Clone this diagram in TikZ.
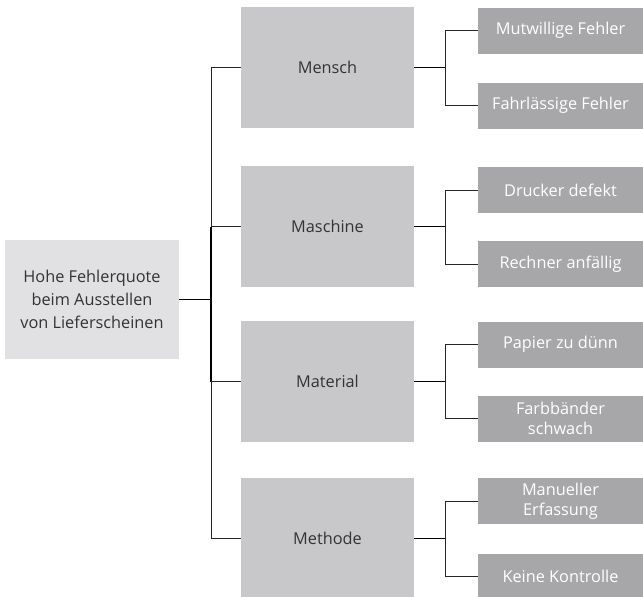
\documentclass[tikz,border=0pt]{standalone}
\usepackage{fontspec}
\setmainfont{Open Sans}
\begin{document}
\begin{tikzpicture}[x=1pt,y=-1pt,
  every node/.style={inner sep=0pt,outer sep=0pt,align=center,font=\fontsize{16.3}{23}\selectfont},
  rootbox/.style={fill=rootgray,text=txtdark,minimum width=174pt,minimum height=119pt},
  catbox/.style={fill=catgray,text=txtdark,minimum width=173pt,minimum height=121pt},
  leafbox/.style={fill=leafgray,text=white,minimum width=165pt,minimum height=46pt,font=\fontsize{16.3}{20}\selectfont},
  heavy/.style={draw=black,line width=1.7pt},
  light/.style={draw=black!85,line width=1pt}]
\definecolor{rootgray}{HTML}{E1E1E3}
\definecolor{catgray}{HTML}{C8C8CA}
\definecolor{leafgray}{HTML}{A7A7AA}
\definecolor{txtdark}{HTML}{333333}
\useasboundingbox (0,0) rectangle (643,597);
\begin{scope}
\clip (0,0) rectangle (643,597);
% root problem
\node[rootbox] (root) at (92,299.5) {Hohe Fehlerquote\\beim Ausstellen\\von Lieferscheinen};
% cause categories
\node[catbox] (mensch)   at (327.5,67.5)  {Mensch};
\node[catbox] (maschine) at (327.5,226.5) {Maschine};
\node[catbox] (material) at (327.5,381.5) {Material};
\node[catbox] (methode)  at (327.5,538.5) {Methode};
% detailed causes
\node[leafbox] (m1) at (560.5,30.5)  {Mutwillige Fehler};
\node[leafbox] (m2) at (560.5,105.5) {Fahrlässige Fehler};
\node[leafbox] (a1) at (560.5,190)   {Drucker defekt};
\node[leafbox] (a2) at (560.5,264)   {Rechner anfällig};
\node[leafbox] (t1) at (560.5,344.5) {Papier zu dünn};
\node[leafbox] (t2) at (560.5,418.5) {Farbbänder\\schwach};
\node[leafbox] (h1) at (560.5,501)   {Manueller\\Erfassung};
\node[leafbox] (h2) at (560.5,576.5) {Keine Kontrolle};
\end{scope}
% trunk on the left
\coordinate (tk) at (211,0);
\draw[heavy] (root.east) -- (tk |- root.east);
\draw[light] (mensch.west) -- (tk |- mensch.west) -- (tk |- maschine.west);
\draw[heavy] (tk |- maschine.west) -- (tk |- material.west);
\draw[light] (tk |- material.west) -- (tk |- methode.west) -- (methode.west);
\draw[light] (tk |- maschine.west) -- (maschine.west);
\draw[light] (tk |- material.west) -- (material.west);
% branches on the right
\coordinate (br) at (445,0);
\foreach \c/\u/\l in {mensch/m1/m2, maschine/a1/a2, material/t1/t2, methode/h1/h2}{
  \draw[heavy] (\c.east) -- (br |- \c.east);
  \draw[light] (\u.west) -- (br |- \u.west) -- (br |- \l.west) -- (\l.west);
}
\end{tikzpicture}
\end{document}
